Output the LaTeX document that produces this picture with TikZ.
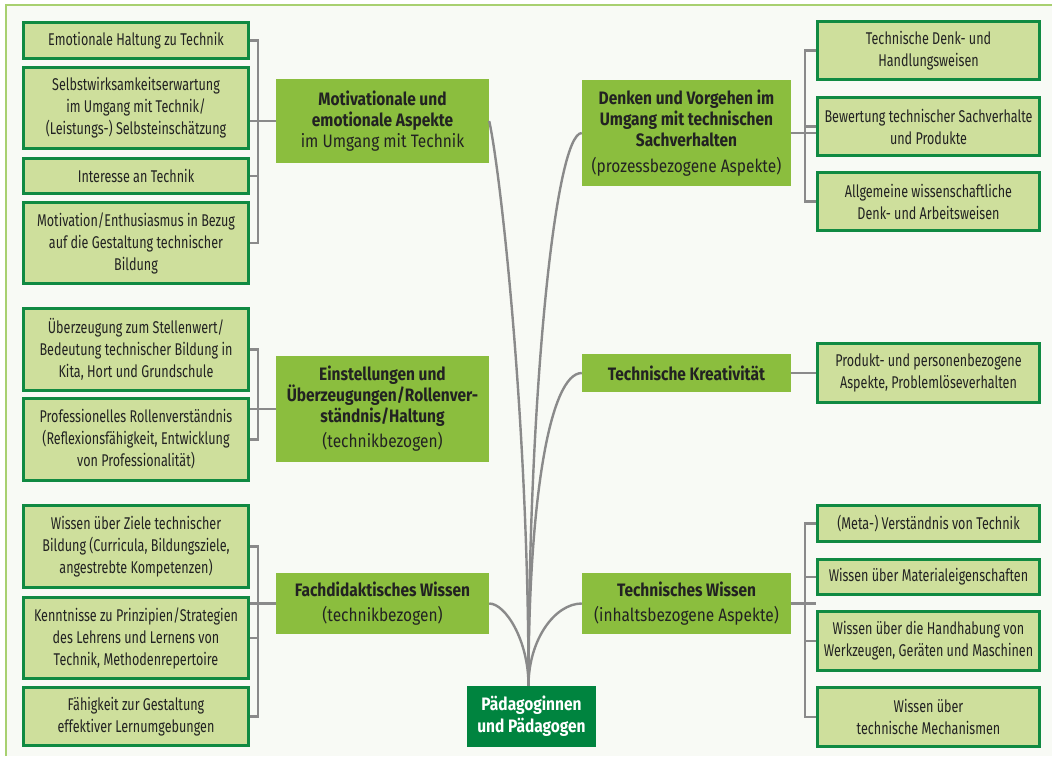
\documentclass[tikz,border=0pt]{standalone}
\usepackage{fontspec}
\setmainfont{Fira Sans}
\newfontfamily\narrowfont{Fira Sans}[FakeStretch=0.74]
\newfontfamily\headfont{Fira Sans}[FakeStretch=0.86]
\usetikzlibrary{calc}

\definecolor{itemfill}{HTML}{CEDF9C}
\definecolor{itemline}{HTML}{108A42}
\definecolor{mainfill}{HTML}{8BBE3E}
\definecolor{ctrfill}{HTML}{00843F}
\definecolor{ink}{HTML}{222222}
\definecolor{linkgray}{HTML}{8A8A8A}
\definecolor{panel}{HTML}{F8FAF5}
\definecolor{framegreen}{HTML}{A8D070}

\tikzset{
  item/.style={draw=itemline, fill=itemfill, line width=2.6pt, text=ink,
    align=center, inner sep=0pt,
    font=\narrowfont\fontsize{17}{22}\selectfont},
  leftitem/.style={item, minimum width=225.4pt},
  rightitem/.style={item, minimum width=222.4pt},
  topic/.style={fill=mainfill, text=ink, align=center, inner sep=0pt,
    font=\headfont\fontsize{18}{21}\selectfont},
  lefttopic/.style={topic, minimum width=213pt},
  righttopic/.style={topic, minimum width=209pt},
  hubbox/.style={fill=ctrfill, text=white, align=center, inner sep=0pt,
    minimum width=129pt, minimum height=61pt,
    font=\headfont\bfseries\fontsize{18}{22}\selectfont},
  bracket/.style={draw=linkgray, line width=2.6pt},
  link/.style={draw=linkgray, line width=2.4pt}
}

\begin{document}
\begin{tikzpicture}[x=1pt, y=-1pt]
  \useasboundingbox (0,0) rectangle (1052,756);
  % panel and its frame lines
  \fill[white] (0,0) rectangle (1052,756);
  \fill[panel] (6,5) rectangle (1052,756);
  \draw[framegreen, line width=1.6pt] (6,756) -- (6,5) -- (1052,5);

  % left column of items
  \node[leftitem, minimum height=36.4pt] (l1) at (136,40.5) {Emotionale Haltung zu Technik};
  \node[leftitem, minimum height=81.4pt] (l2) at (136,108) {Selbstwirksamkeitserwartung\\im Umgang mit Technik/\\(Leistungs-) Selbsteinschätzung};
  \node[leftitem, minimum height=35.4pt] (l3) at (136,176) {Interesse an Technik};
  \node[leftitem, minimum height=81.4pt] (l4) at (136,243) {Motivation/Enthusiasmus in Bezug\\auf die Gestaltung technischer\\Bildung};
  \node[leftitem, minimum height=82.4pt] (l5) at (136,349.5) {Überzeugung zum Stellenwert/\\Bedeutung technischer Bildung in\\Kita, Hort und Grundschule};
  \node[leftitem, minimum height=82.4pt] (l6) at (136,439.5) {Professionelles Rollenverständnis\\(Reflexionsfähigkeit, Entwicklung\\von Professionalität)};
  \node[leftitem, minimum height=82.4pt] (l7) at (136,546.5) {Wissen über Ziele technischer\\Bildung (Curricula, Bildungsziele,\\angestrebte Kompetenzen)};
  \node[leftitem, minimum height=81.4pt] (l8) at (136,638) {Kenntnisse zu Prinzipien/Strategien\\des Lehrens und Lernens von\\Technik, Methodenrepertoire};
  \node[leftitem, minimum height=58.4pt] (l9) at (136,716.5) {Fähigkeit zur Gestaltung\\effektiver Lernumgebungen};

  % right column of items
  \node[rightitem, minimum height=58.4pt] (r1) at (928.5,50.5) {Technische Denk- und\\Handlungsweisen};
  \node[rightitem, minimum height=58.4pt] (r2) at (928.5,126.5) {Bewertung technischer Sachverhalte\\und Produkte};
  \node[rightitem, minimum height=58.4pt] (r3) at (928.5,201.5) {Allgemeine wissenschaftliche\\Denk- und Arbeitsweisen};
  \node[rightitem, minimum height=59.4pt] (r4) at (928.5,373) {Produkt- und personenbezogene\\Aspekte, Problemlöseverhalten};
  \node[rightitem, minimum height=36.4pt] (r5) at (928.5,523.5) {(Meta-) Verständnis von Technik};
  \node[rightitem, minimum height=35.4pt] (r6) at (928.5,577) {Wissen über Materialeigenschaften};
  \node[rightitem, minimum height=59.4pt] (r7) at (928.5,641) {Wissen über die Handhabung von\\Werkzeugen, Geräten und Maschinen};
  \node[rightitem, minimum height=59.4pt] (r8) at (928.5,717) {Wissen über\\technische Mechanismen};

  % competence areas
  \node[lefttopic, minimum height=84pt] (m1) at (382.5,121) {\textbf{Motivationale und}\\\textbf{emotionale Aspekte}\\im Umgang mit Technik};
  \node[lefttopic, minimum height=106pt] (m2) at (382.5,409) {\textbf{Einstellungen und}\\\textbf{Überzeugungen/Rollenver-}\\\textbf{ständnis/Haltung}\\[4pt](technikbezogen)};
  \node[lefttopic, minimum height=61pt] (m3) at (382.5,603.5) {\textbf{Fachdidaktisches Wissen}\\[4pt](technikbezogen)};
  \node[righttopic, minimum height=106pt] (m4) at (686.5,133) {\textbf{Denken und Vorgehen im}\\\textbf{Umgang mit technischen}\\\textbf{Sachverhalten}\\[5pt](prozessbezogene Aspekte)};
  \node[righttopic, minimum height=38pt] (m5) at (686.5,373) {\textbf{Technische Kreativität}};
  \node[righttopic, minimum height=61pt] (m6) at (686.5,603.5) {\textbf{Technisches Wissen}\\[4pt](inhaltsbezogene Aspekte)};

  % centre
  \node[hubbox] (ctr) at (531.5,716.5) {Pädagoginnen\\und Pädagogen};

  % brackets joining items to their area
  \draw[bracket] (l1.east) -- ++(8,0) |- (l4.east);
  \draw[bracket] (l3.east) -- ++(8,0);
  \draw[bracket] (m1.west) -- (m1.west -| l1.east);
  \draw[bracket] (l5.east) -- ++(8,0) |- (l6.east);
  \draw[bracket] (m2.west) -- (m2.west -| l5.east);
  \draw[bracket] (l7.east) -- ++(8,0) |- (l9.east);
  \draw[bracket] (l8.east) -- ++(8,0);
  \draw[bracket] (m3.west) -- (m3.west -| l7.east);

  \draw[bracket] (r1.west) -- ++(-11,0) |- (r3.west);
  \draw[bracket] (r2.west) -- ++(-11,0);
  \draw[bracket] (m4.east) -- (m4.east -| r1.west);
  \draw[bracket] (m5.east) -- (r4.west);
  \draw[bracket] (r5.west) -- ++(-11,0) |- (r8.west);
  \draw[bracket] (r6.west) -- ++(-11,0);
  \draw[bracket] (r7.west) -- ++(-11,0);
  \draw[bracket] (m6.east) -- (m6.east -| r5.west);

  % curved links from the centre
  \coordinate (hub) at ([xshift=-3pt]ctr.north);
  \draw[link] (hub) .. controls +(0,-266) and +(11,49) .. (m1.east);
  \draw[link] (hub) .. controls +(0,-286) and +(-27,0) .. (m4.west);
  \draw[link] (hub) .. controls +(0,-186) and +(-32,0) .. (m5.west);
  \draw[link] (hub) .. controls +(0,-46) and +(16,0) .. (m3.east);
  \draw[link] (hub) .. controls +(0,-46) and +(-27,0) .. (m6.west);
\end{tikzpicture}
\end{document}
